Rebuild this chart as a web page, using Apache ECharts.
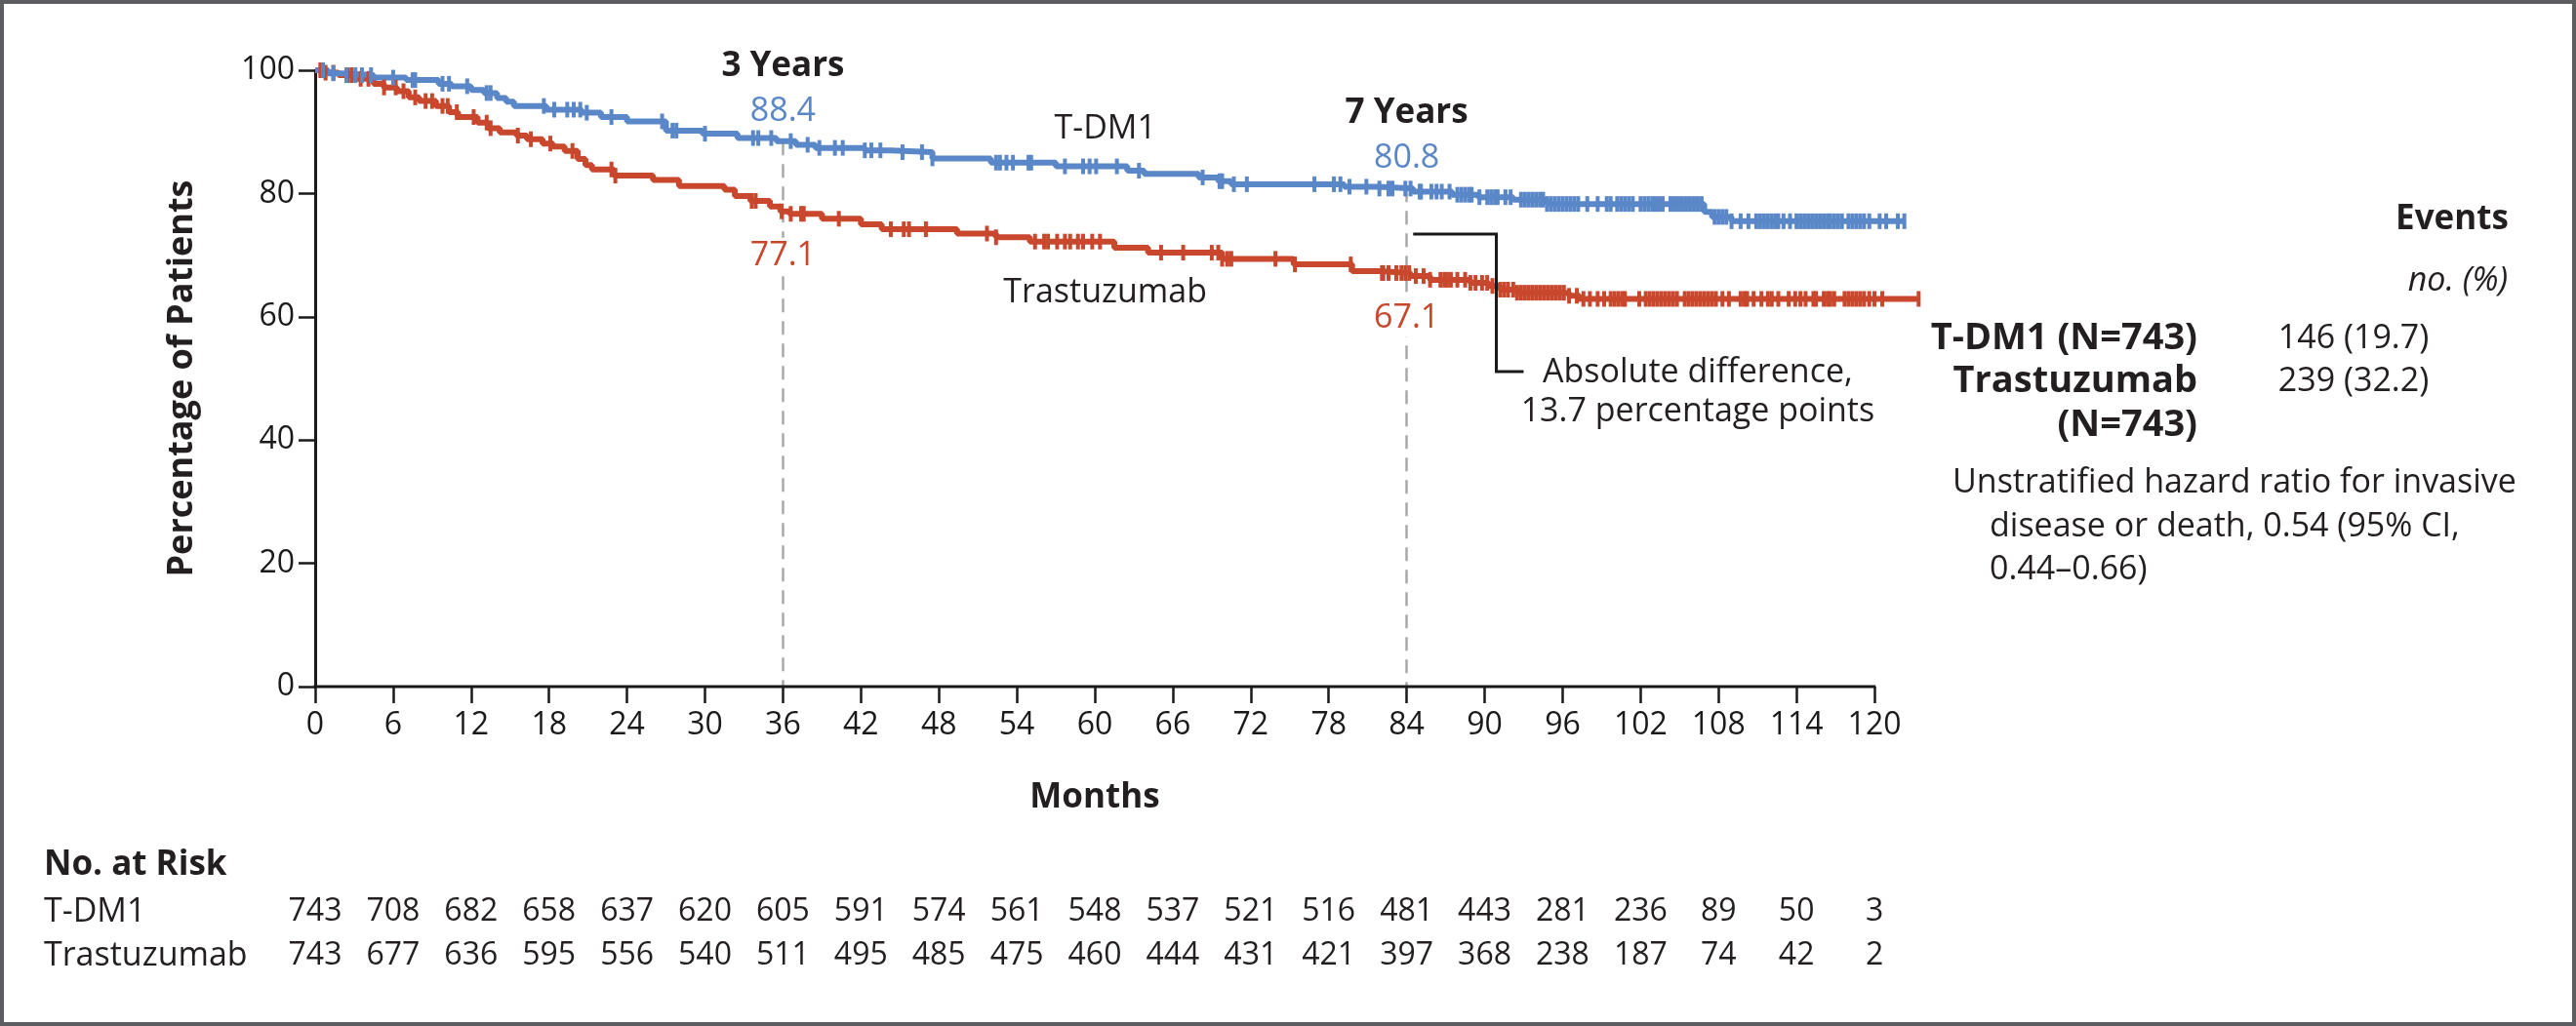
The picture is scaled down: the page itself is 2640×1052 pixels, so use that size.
<!DOCTYPE html>
<html><head><meta charset="utf-8">
<script src="https://cdn.jsdelivr.net/npm/echarts@6/dist/echarts.min.js"></script>
<style>html,body{margin:0;padding:0;background:#fff;}#c{width:2640px;height:1052px;}</style>
</head><body><div id="c"></div>
<script>
// ---------- DATA ----------
const monthTicks = [0,6,12,18,24,30,36,42,48,54,60,66,72,78,84,90,96,102,108,114,120];

const tdm1Times = [0,1.0,2.0,4.5,7.0,9.5,10.5,12.0,13.0,14.0,14.7,15.3,17.8,20.5,22.0,24.0,27.0,29.8,32.5,35.5,37.0,38.5,42.3,44.3,47.5,52.0,57.0,62.5,63.8,68.0,69.5,70.5,79.2,81.8,84.5,87.5,89.5,92.2,94.8,106.9,107.5,109.0,122.3];
const tdm1Surv  = [100,99.5,99.2,98.8,98.4,97.8,97.4,96.8,96.3,95.5,94.9,94.2,93.6,93.1,92.4,91.7,90.2,89.7,89.0,88.5,87.9,87.4,87.0,86.7,85.7,85.0,84.4,83.7,83.2,82.6,82.0,81.5,81.1,80.8,80.3,79.8,79.4,79.0,78.3,77.0,76.2,75.5,75.5];

const trasTimes = [0,0.8,1.8,3.0,4.5,5.3,6.3,7.2,8.0,9.3,10.3,11.0,12.5,13.3,14.2,15.5,16.3,17.5,18.3,19.2,20.2,20.8,21.3,23.0,26.0,28.0,31.5,32.3,33.5,35.0,35.8,36.5,39.0,42.0,43.6,49.4,52.4,55.0,61.5,64.1,69.8,75.3,79.8,81.9,84.3,85.8,88.9,90.3,91.2,92.5,96.5,97.3,123.4];
const trasSurv  = [100,99.6,99.2,98.6,97.8,97.2,96.6,95.6,95.0,94.2,93.2,92.4,91.5,90.6,89.9,89.4,88.8,88.1,87.6,86.9,85.6,84.6,83.9,82.9,82.2,81.2,80.6,79.6,78.8,77.9,77.1,76.7,75.9,75.0,74.2,73.5,72.9,72.2,71.2,70.4,69.4,68.5,67.4,67.1,66.6,66.0,65.5,65.0,64.4,63.9,63.4,62.9,62.9];

const tdm1Censor = [0.6,1.4,2.4,3.1,3.6,4.3,6.0,7.5,7.7,9.8,10.3,11.7,13.2,13.5,17.6,18.4,19.4,19.9,20.4,20.9,22.8,26.7,27.5,27.8,30.0,33.7,34.1,35.1,
 36.6,37.9,38.8,40.0,40.6,42.3,42.8,43.5,45.2,46.7,47.5,52.4,52.7,53.2,53.7,54.9,55.1,57.7,59.1,59.6,60.1,61.7,63.4,68.3,69.6,69.8,70.7,71.7,76.9,78.4,78.9,79.6,80.9,81.9,82.6,82.9,83.9,
 84.3,85.0,85.1,85.9,86.3,86.7,87.3,87.9,88.2,88.5,88.8,89.0,89.6,90.2,90.5,90.8,91.0,91.6,92.0,92.8,93.1,93.4,93.7,94.0,94.3,94.5,94.8,95.1,95.4,95.7,96.0,96.3,96.6,96.9,97.2,97.9,98.7,99.4,99.7,
 100.2,100.5,100.8,101.1,101.4,102.0,102.3,102.6,102.9,103.1,103.4,103.7,104.3,104.6,104.9,105.2,105.5,105.8,106.1,106.4,106.7,107.7,108.0,108.3,108.6,109.0,109.7,110.3,110.9,111.2,111.5,111.8,112.1,112.4,112.6,
 113.0,113.5,114.0,114.3,114.6,114.9,115.2,115.5,115.8,116.1,116.4,116.6,116.9,117.2,117.5,118.0,118.3,118.6,118.9,119.2,119.6,120.4,120.9,121.8,122.3];

const trasCensor = [0.4,0.8,1.4,2.5,2.8,3.5,4.1,5.3,6.2,6.8,7.7,8.5,9.0,9.8,10.2,10.9,12.2,13.2,13.5,15.6,16.6,18.1,19.8,22.8,23.1,33.6,33.9,35.9,
 36.6,37.4,37.6,40.3,44.3,45.3,45.7,47.0,51.7,52.4,55.4,56.1,56.4,57.1,57.7,58.1,58.7,59.1,59.8,60.4,65.1,66.8,69.0,69.5,69.8,70.2,70.5,73.9,75.4,79.7,82.1,82.2,82.6,83.2,83.6,83.9,
 84.2,84.7,85.3,85.8,86.6,86.9,87.1,87.4,87.9,88.5,88.9,89.3,89.8,90.2,90.6,91.2,91.5,91.8,92.2,92.5,92.8,93.1,93.4,93.7,94.0,94.3,94.6,94.9,95.2,95.5,95.8,96.1,96.5,97.1,97.6,98.1,98.7,99.2,99.7,
 100.0,100.3,100.6,100.8,101.9,102.4,102.7,103.0,103.3,103.6,103.9,104.2,104.5,104.8,105.4,105.7,106.0,106.3,106.6,106.9,107.2,107.5,107.8,108.3,108.8,109.7,110.0,110.2,110.7,111.3,111.8,112.1,112.6,
 113.4,113.9,114.3,114.7,115.3,115.5,116.1,116.4,116.6,116.9,117.7,118.0,118.3,118.6,118.9,119.2,119.6,120.0,120.6,123.4];

const tdm1AtRisk = [743,708,682,658,637,620,605,591,574,561,548,537,521,516,481,443,281,236,89,50,3];
const trasAtRisk = [743,677,636,595,556,540,511,495,485,475,460,444,431,421,397,368,238,187,74,42,2];

const milestoneMonths = [36, 84];
const milestoneNames = ['3 Years', '7 Years'];
const tdm1Milestone = [88.4, 80.8];
const trasMilestone = [77.1, 67.1];

const armNames = ['T-DM1', 'Trastuzumab'];
const eventsHeader = ['Events', 'no. (%)'];
const eventsRows = [['T-DM1 (N=743)', '146 (19.7)'], ['Trastuzumab', '239 (32.2)'], ['(N=743)', '']];
const hrLines = ['Unstratified hazard ratio for invasive', 'disease or death, 0.54 (95% CI,', '0.44\u20130.66)'];
const diffLines = ['Absolute difference,', '13.7 percentage points'];

// ---------- STYLE ----------
const FONT = '"Open Sans", "Noto Sans", sans-serif';
const INK = '#231f20';
const BLUE = '#5a87c7';
const RED = '#c8472d';

function survAt(times, surv, t) {
  let v = surv[0];
  for (let i = 0; i < times.length; i++) { if (times[i] <= t) v = surv[i]; else break; }
  return v;
}
function pairs(times, surv) { return times.map((t, i) => [t, surv[i]]); }

const chart = echarts.init(document.getElementById('c'), null, {renderer: 'canvas', width: 2640, height: 1052});

const tickStyle = {show: true, inside: false, length: 17, lineStyle: {color: '#1a1a1a', width: 2.5}};
const labelStyle = {fontFamily: FONT, fontSize: 32, color: '#1a1a1a'};

const option = {
  animation: false,
  backgroundColor: '#ffffff',
  // x extent runs to 124 months so the curves can run past the last tick (120)
  grid: {left: 323, right: 665.7, top: 72, bottom: 348, containLabel: false, outerBoundsMode: 'none'},
  xAxis: {type: 'value', min: 0, max: 124, interval: 6,
    axisLine: {show: false},
    axisTick: Object.assign({}, tickStyle, {customValues: monthTicks}),
    axisLabel: Object.assign({}, labelStyle, {margin: 24, customValues: monthTicks,
      formatter: v => (v <= 120 ? String(v) : '')}),
    splitLine: {show: false}},
  yAxis: {type: 'value', min: 0, max: 100, interval: 20,
    axisLine: {show: true, lineStyle: {color: '#1a1a1a', width: 3}},
    axisTick: tickStyle,
    axisLabel: Object.assign({}, labelStyle, {margin: 21}),
    splitLine: {show: false}},
  series: [
    {
      name: armNames[1], type: 'line', step: 'end', clip: false, showSymbol: false, z: 3,
      data: pairs(trasTimes, trasSurv),
      lineStyle: {color: RED, width: 6}, itemStyle: {color: RED},
      markLine: {
        silent: true, symbol: ['none', 'none'], label: {show: false}, z: 1,
        lineStyle: {type: [14, 9], color: '#a9a9a9', width: 2.5},
        data: milestoneMonths.map((m, i) => [{coord: [m, tdm1Milestone[i]]}, {coord: [m, 0]}])
      }
    },
    {
      name: armNames[0], type: 'line', step: 'end', clip: false, showSymbol: false, z: 4,
      data: pairs(tdm1Times, tdm1Surv),
      lineStyle: {color: BLUE, width: 6}, itemStyle: {color: BLUE}
    },
    {
      type: 'scatter', clip: false, z: 5, symbol: 'rect', symbolSize: [4, 16],
      itemStyle: {color: RED, opacity: 1}, silent: true,
      data: trasCensor.map(t => [t, survAt(trasTimes, trasSurv, t)])
    },
    {
      type: 'scatter', clip: false, z: 6, symbol: 'rect', symbolSize: [4, 16],
      itemStyle: {color: BLUE, opacity: 1}, silent: true,
      data: tdm1Censor.map(t => [t, survAt(tdm1Times, tdm1Surv, t)])
    }
  ]
};
chart.setOption(option);

// ---------- ANNOTATIONS ----------
const px = (m, p) => chart.convertToPixel({gridIndex: 0}, [m, p]);
const g = [];
function txt(x, y, text, o) {
  g.push({type: 'text', x: x, y: y, z: 100,
    style: Object.assign({text: text, fontFamily: FONT, fontSize: 34, fill: INK, align: 'center', verticalAlign: 'middle'}, o || {})});
}

// frame
g.push({type: 'rect', z: 200, shape: {x: 2, y: 2, width: 2636, height: 1048}, style: {fill: 'none', stroke: '#5b5d61', lineWidth: 4}});

// x axis line, from 0 to the last tick
const a0 = px(monthTicks[0], 0), a1 = px(monthTicks[monthTicks.length - 1], 0);
g.push({type: 'line', z: 50, shape: {x1: a0[0] - 1.5, y1: a0[1], x2: a1[0] + 1.2, y2: a1[1]}, style: {stroke: '#1a1a1a', lineWidth: 3}});

// axis titles
txt(187, 388, 'Percentage of Patients', {fontSize: 36, fontWeight: 'bold'});
g[g.length - 1].rotation = Math.PI / 2;
txt(1122, 818, 'Months', {fontSize: 35, fontWeight: 'bold'});

// milestone labels
milestoneMonths.forEach((m, i) => {
  const top = px(m, tdm1Milestone[i]);
  txt(top[0], top[1] - 77, milestoneNames[i], {fontSize: 35, fontWeight: 'bold'});
  txt(top[0], top[1] - 31, tdm1Milestone[i].toFixed(1), {fill: BLUE});
  const bot = px(m, trasMilestone[i]);
  txt(bot[0], bot[1] + 46, trasMilestone[i].toFixed(1), {fill: RED, backgroundColor: '#ffffff', padding: [2, 2]});
});

// arm labels on curves
const armPos = [px(60.8, 90.5), px(60.8, 63.9)];
txt(armPos[0][0], armPos[0][1], armNames[0]);
txt(armPos[1][0], armPos[1][1], armNames[1]);

// bracket + absolute difference
const b = [px(84.5, 73.4), px(90.9, 73.4), px(90.9, 51.1), px(93.0, 51.1)];
g.push({type: 'polyline', z: 90, shape: {points: b}, style: {stroke: '#1a1a1a', lineWidth: 3, fill: 'none'}});
const dp = px(106.4, 50.9);
txt(dp[0], dp[1], diffLines[0]);
txt(dp[0], dp[1] + 40, diffLines[1]);

// right panel
txt(2513, 225, eventsHeader[0], {fontSize: 35, fontWeight: 'bold'});
txt(2519, 288, eventsHeader[1], {fontStyle: 'italic'});
eventsRows.forEach((r, i) => {
  const y = 347 + i * 44.5;
  txt(2252, y, r[0], {fontSize: 38, fontWeight: 'bold', align: 'right'});
  if (r[1]) txt(2412, y, r[1]);
});
txt(2001, 495, hrLines[0], {align: 'left'});
txt(2039, 540, hrLines[1], {align: 'left'});
txt(2039, 584, hrLines[2], {align: 'left'});

// risk table
txt(45, 887, 'No. at Risk', {fontSize: 35, fontWeight: 'bold', align: 'left'});
txt(45, 935, armNames[0], {align: 'left'});
txt(45, 980, armNames[1], {align: 'left'});
monthTicks.forEach((m, i) => {
  const x = px(m, 0)[0];
  txt(x, 935, String(tdm1AtRisk[i]), {fontSize: 32});
  txt(x, 980, String(trasAtRisk[i]), {fontSize: 32});
});

chart.setOption({graphic: g});
</script>
</body></html>
